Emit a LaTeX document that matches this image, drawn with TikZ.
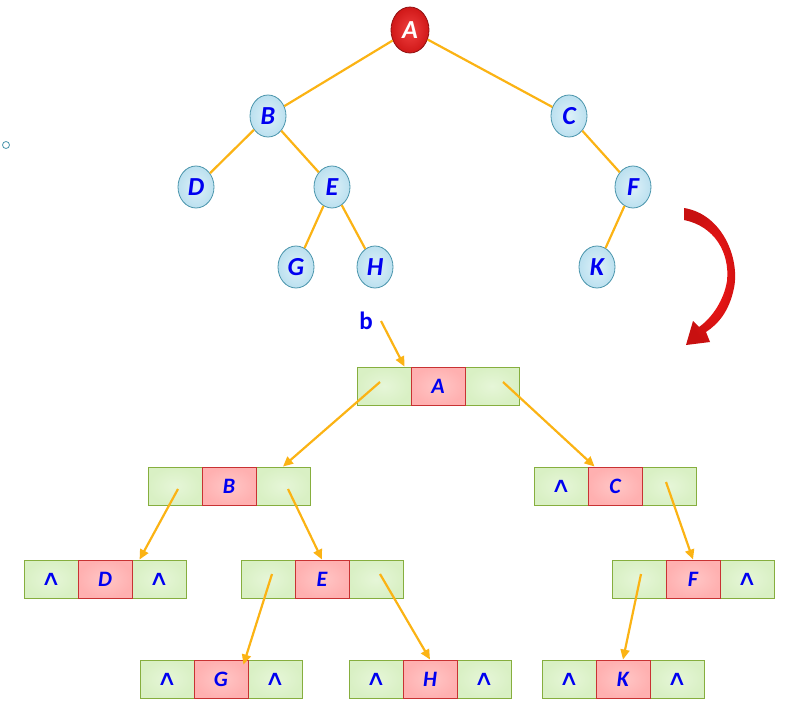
\documentclass[tikz,border=0pt]{standalone}
\usepackage{fontspec}
\usepackage{graphicx}
\setmainfont{Carlito}
\newfontfamily\symfont{DejaVu Sans}
\usetikzlibrary{shapes.geometric,arrows.meta}
\definecolor{edgeor}{HTML}{FBB314}
\definecolor{bluetxt}{HTML}{0000F0}
\definecolor{cellgreen}{HTML}{D9F0C4}
\definecolor{cellgreenin}{HTML}{E6F6D8}
\definecolor{cellgreenbd}{HTML}{86AE3E}
\definecolor{cellred}{HTML}{FFB0B0}
\definecolor{cellredin}{HTML}{FFC6C6}
\definecolor{cellredbd}{HTML}{C83232}
\definecolor{ellfill}{HTML}{BBE0EF}
\definecolor{ellin}{HTML}{DDF1F9}
\definecolor{ellbd}{HTML}{4A95AC}
\definecolor{rootred}{HTML}{D01818}
\definecolor{rootin}{HTML}{F04040}
\definecolor{arrred}{HTML}{C81010}
\tikzset{
  tnode/.style={ellipse, draw=ellbd, line width=0.8pt, inner color=ellin, outer color=ellfill,
    minimum width=36pt, minimum height=42pt, inner sep=0pt,
    font=\fontsize{26}{26}\selectfont\bfseries\itshape, text=bluetxt},
  rnode/.style={ellipse, draw=rootred!70!black, line width=0.8pt, inner color=rootin, outer color=rootred,
    minimum width=38pt, minimum height=46pt, inner sep=0pt,
    font=\fontsize{26}{26}\selectfont\bfseries\itshape, text=white},
  gcell/.style={rectangle, draw=cellgreenbd, line width=0.9pt, inner color=cellgreenin, outer color=cellgreen,
    minimum width=54pt, minimum height=38pt, inner sep=0pt,
    font=\fontsize{21}{21}\selectfont\symfont, text=bluetxt},
  rcell/.style={rectangle, draw=cellredbd, line width=0.9pt, inner color=cellredin, outer color=cellred,
    minimum width=54pt, minimum height=38pt, inner sep=0pt,
    font=\fontsize{22}{22}\selectfont\bfseries\itshape, text=bluetxt},
  tedge/.style={draw=edgeor, line width=2.2pt},
  parrow/.style={draw=edgeor, line width=2.2pt, -{Triangle[length=10pt,width=9pt]}},
}
\newcommand{\nil}{\scalebox{1.35}[1.0]{∧}}
\begin{document}
\begin{tikzpicture}[x=1pt,y=-1pt]
\useasboundingbox (0,0) rectangle (801,726);
% tree nodes
\node[rnode] (tA) at (410,30) {A};
\node[tnode] (tB) at (268,116) {B};
\node[tnode] (tC) at (569,116) {C};
\node[tnode] (tD) at (196,187) {D};
\node[tnode] (tE) at (332,187) {E};
\node[tnode] (tF) at (633,187) {F};
\node[tnode] (tG) at (296,267) {G};
\node[tnode] (tH) at (375,267) {H};
\node[tnode] (tK) at (597,267) {K};
\draw[tedge] (tA) -- (tB);
\draw[tedge] (tA) -- (tC);
\draw[tedge] (tB) -- (tD);
\draw[tedge] (tB) -- (tE);
\draw[tedge] (tE) -- (tG);
\draw[tedge] (tE) -- (tH);
\draw[tedge] (tC) -- (tF);
\draw[tedge] (tF) -- (tK);
% small stray circle
\node[circle, draw=ellbd, line width=0.8pt, minimum size=7pt, inner sep=0pt] (dot) at (6,145) {};
% curved red arrow
\path[inner color=red!90!white, outer color=arrred]
  (684,208) .. controls (722,214) and (740,258) .. (734,288)
  .. controls (729,312) and (718,324) .. (706,332)
  -- (710,342) -- (686,345) -- (693,321) -- (699,327)
  .. controls (712,318) and (724,300) .. (727,281)
  .. controls (730,252) and (714,226) .. (684,220) -- cycle;
% list records
\foreach \n/\x/\y/\t/\l/\r in {A/438/386/A//, B/229/486/B//, C/615/486/C/\nil/, D/105/579/D/\nil/\nil, E/322/579/E//, F/693/579/F//\nil, G/221/679/G/\nil/\nil, H/430/679/H/\nil/\nil, K/623/679/K/\nil/\nil}{
  \node[gcell] (\n l) at (\x-54,\y) {\l};
  \node[gcell] (\n r) at (\x+54,\y) {\r};
  \node[rcell] (\n m) at (\x,\y) {\t};
}
\node[font=\fontsize{25}{25}\selectfont\bfseries, text=bluetxt] (b) at (366,321) {b};
\coordinate (bs) at (381,321);
\draw[parrow] (bs) -- ([xshift=-7pt]Al.north east);
\draw[parrow] ([xshift=-4pt,yshift=4pt]Al.center) -- (Br.north);
\draw[parrow] ([xshift=11pt,yshift=4pt]Ar.center) -- ([xshift=7pt]Cm.north west);
\draw[parrow] ([xshift=3pt,yshift=-3pt]Bl.center) -- ([xshift=8pt]Dr.north west);
\draw[parrow] ([xshift=5pt,yshift=-3pt]Br.center) -- (Em.north);
\draw[parrow] ([xshift=-3pt,yshift=4pt]Cr.center) -- (Fm.north);
\draw[parrow] ([xshift=4pt,yshift=5pt]El.center) -- ([xshift=-5pt,yshift=-5pt]Gm.north east);
\draw[parrow] ([xshift=4pt,yshift=5pt]Er.center) -- (Hm.north);
\draw[parrow] ([xshift=2pt,yshift=5pt]Fl.center) -- (Km.north);
\end{tikzpicture}
\end{document}
